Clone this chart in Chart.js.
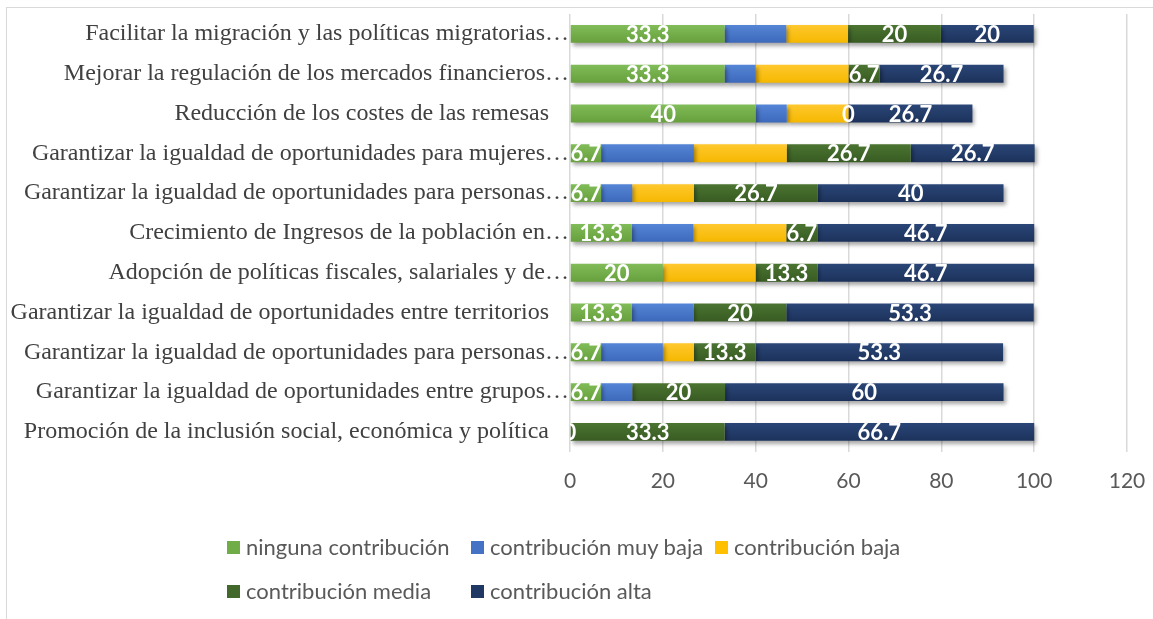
<!DOCTYPE html>
<html>
<head>
<meta charset="utf-8">
<script src="https://cdn.jsdelivr.net/npm/chart.js@4/dist/chart.umd.min.js"></script>
<style>
  html, body { margin: 0; padding: 0; background: #fff; overflow: hidden; }
  #wrap { position: relative; width: 1153px; height: 619px; }
  #frame { position: absolute; left: 6px; top: 7px; width: 1400px; height: 900px;
           border-left: 1px solid #d9d9d9; border-top: 1px solid #d9d9d9; }
  #myChart { position: absolute; left: 0; top: 0; }
  #legend { position: absolute; left: 227px; top: 534px; display: grid;
            grid-template-columns: repeat(3, 244px); row-gap: 18px;
            font: 22px Lato, sans-serif; color: #595959; line-height: 26px; }
  .item { display: flex; align-items: center; white-space: nowrap; }
  .box { width: 13px; height: 13px; margin-right: 6px; flex: none; }
</style>
</head>
<body>
<div id="wrap">
  <div id="frame"></div>
  <canvas id="myChart" width="1153" height="619"></canvas>
  <div id="legend"></div>
</div>
<script>
const categories = [
  "Facilitar la migración y las políticas migratorias…",
  "Mejorar la regulación de los mercados financieros…",
  "Reducción de los costes de las remesas",
  "Garantizar la igualdad de oportunidades para mujeres…",
  "Garantizar la igualdad de oportunidades para personas…",
  "Crecimiento de Ingresos de la población en…",
  "Adopción de políticas fiscales, salariales y de…",
  "Garantizar la igualdad de oportunidades entre territorios",
  "Garantizar la igualdad de oportunidades para personas…",
  "Garantizar la igualdad de oportunidades entre grupos…",
  "Promoción de la inclusión social, económica y política"
];

const seriesNames = [
  "ninguna contribución",
  "contribución muy baja",
  "contribución baja",
  "contribución media",
  "contribución alta"
];

const ninguna = [33.3, 33.3, 40, 6.7, 6.7, 13.3, 20, 13.3, 6.7, 6.7, 0];
const muyBaja = [13.3, 6.7, 6.7, 20, 6.7, 13.3, 0, 13.3, 13.3, 6.7, 0];
const baja    = [13.3, 20, 13.3, 20, 13.3, 20, 20, 0, 6.7, 0, 0];
const media   = [20, 6.7, 0, 26.7, 26.7, 6.7, 13.3, 20, 13.3, 20, 33.3];
const alta    = [20, 26.7, 26.7, 26.7, 40, 46.7, 46.7, 53.3, 53.3, 60, 66.7];

const xTicks = [0, 20, 40, 60, 80, 100, 120];

// only these series carry value labels in the original
const labelledSeries = [0, 3, 4];

const colors = ["#70AD47", "#4472C4", "#FFC000", "#43682B", "#203864"];
const shades = [
  ["#80BC58", "#67A03D"],
  ["#5585D6", "#3D69BB"],
  ["#FFC82E", "#F5B800"],
  ["#4B7431", "#385B22"],
  ["#2A4677", "#1C325B"]
];

function barFill(idx) {
  return (c) => {
    const el = c.element;
    if (!el || el.y == null || isNaN(el.y) || !el.height) return colors[idx];
    const g = c.chart.ctx.createLinearGradient(0, el.y - el.height / 2, 0, el.y + el.height / 2);
    g.addColorStop(0, shades[idx][0]);
    g.addColorStop(1, shades[idx][1]);
    return g;
  };
}

const seriesData = [ninguna, muyBaja, baja, media, alta];

const datasets = seriesData.map((d, i) => ({
  label: seriesNames[i],
  data: d,
  backgroundColor: barFill(i),
  borderWidth: 0,
  barPercentage: 0.45,
  categoryPercentage: 1
}));

const shadowPlugin = {
  id: "barShadow",
  beforeDatasetsDraw(chart) {
    const ctx = chart.ctx;
    ctx.save();
    ctx.shadowColor = "rgba(0,0,0,0.35)";
    ctx.shadowBlur = 4;
    ctx.shadowOffsetX = 2;
    ctx.shadowOffsetY = 3;
  },
  afterDatasetsDraw(chart) {
    chart.ctx.restore();
  }
};

const categoryLabels = {
  id: "categoryLabels",
  afterDraw(chart) {
    const ctx = chart.ctx;
    const area = chart.chartArea;
    const y = chart.scales.y;
    ctx.save();
    ctx.font = '24px "Liberation Serif", "Times New Roman", serif';
    ctx.fillStyle = "#404040";
    ctx.textAlign = "right";
    ctx.textBaseline = "middle";
    categories.forEach((t, i) => {
      const right = t.endsWith("…") ? area.left - 1 : area.left - 21;
      ctx.fillText(t, right, y.getPixelForValue(i));
    });
    ctx.restore();
  }
};

const valueLabels = {
  id: "valueLabels",
  afterDraw(chart) {
    const ctx = chart.ctx;
    const area = chart.chartArea;
    ctx.save();
    ctx.beginPath();
    ctx.rect(area.left, area.top, area.right - area.left, area.bottom - area.top);
    ctx.clip();
    ctx.font = 'bold 22px Lato, sans-serif';
    ctx.fillStyle = "#ffffff";
    ctx.textAlign = "center";
    ctx.textBaseline = "middle";
    labelledSeries.forEach(s => {
      const meta = chart.getDatasetMeta(s);
      meta.data.forEach((bar, i) => {
        const v = chart.data.datasets[s].data[i];
        ctx.fillText(String(v), (bar.x + bar.base) / 2, bar.y + 1);
      });
    });
    ctx.restore();
  }
};

const config = {
  type: "bar",
  data: { labels: categories, datasets },
  options: {
    indexAxis: "y",
    responsive: false,
    animation: false,
    layout: { padding: { left: 570, top: 14, right: 26, bottom: 108 } },
    plugins: {
      legend: { display: false },
      tooltip: { enabled: false }
    },
    scales: {
      x: {
        stacked: true,
        min: 0,
        max: 120,
        afterBuildTicks: (scale) => { scale.ticks = xTicks.map(v => ({ value: v })); },
        afterFit: (scale) => { scale.paddingRight = 0; scale.paddingLeft = 0; },
        grid: { color: "#d9d9d9", lineWidth: 1.5, drawTicks: false },
        border: { display: false },
        ticks: { padding: 17, color: "#595959", font: { family: "Lato", size: 21 } }
      },
      y: {
        stacked: true,
        display: false,
        grid: { display: false }
      }
    }
  },
  plugins: [shadowPlugin, categoryLabels, valueLabels]
};

const chart = new Chart(document.getElementById("myChart"), config);
chart.update("none");

const legend = document.getElementById("legend");
seriesNames.forEach((name, i) => {
  const item = document.createElement("div");
  item.className = "item";
  const box = document.createElement("span");
  box.className = "box";
  box.style.background = colors[i];
  item.appendChild(box);
  item.appendChild(document.createTextNode(name));
  legend.appendChild(item);
});
</script>
</body>
</html>
